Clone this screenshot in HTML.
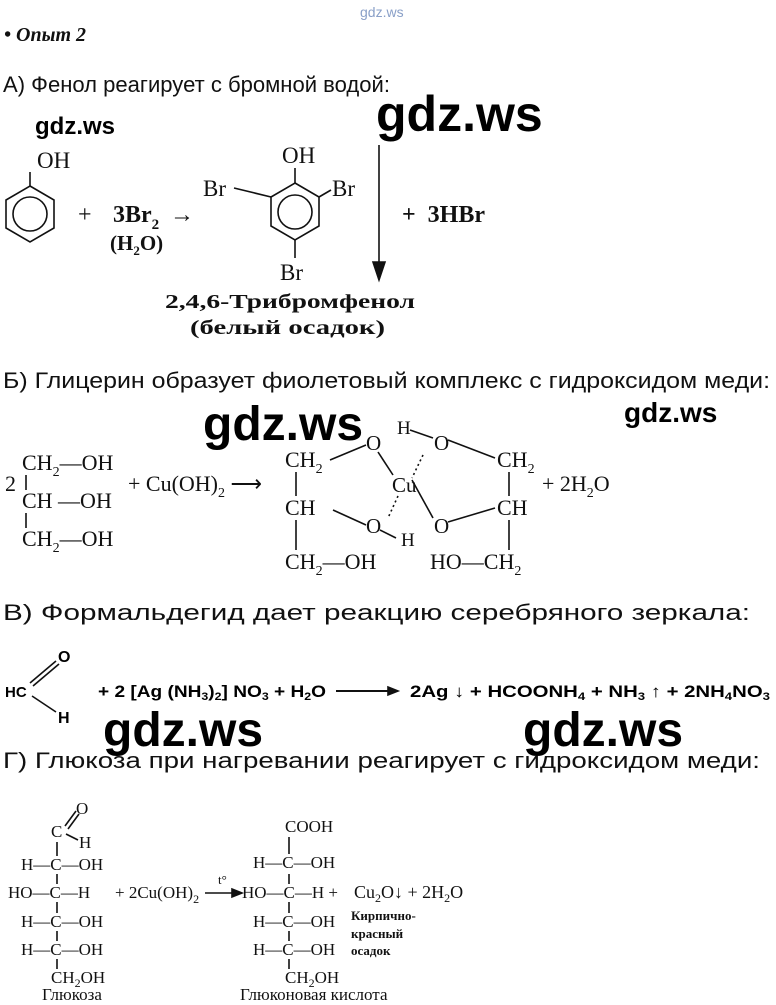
<!DOCTYPE html>
<html><head><meta charset="utf-8"><style>
html,body{margin:0;padding:0;background:#fff;}
svg{display:block;}
.s{font-family:"Liberation Serif",serif;fill:#111;}
.h{font-family:"Liberation Sans",sans-serif;fill:#111;}
.w{font-family:"Liberation Sans",sans-serif;font-weight:bold;fill:#000;}
line,polygon,circle,path{stroke:#111;fill:none;stroke-width:1.6;}
</style></head><body>
<svg width="776" height="1005" viewBox="0 0 776 1005" xmlns="http://www.w3.org/2000/svg">
<text x="360" y="17" font-family="Liberation Sans,sans-serif" font-size="14" fill="#8aa0c8">gdz.ws</text>
<text x="4" y="41" class="s" font-size="20" font-weight="bold" font-style="italic">• Опыт 2</text>
<text x="3" y="92" class="h" font-size="22" textLength="387" lengthAdjust="spacingAndGlyphs">А) Фенол реагирует с бромной водой:</text>
<text x="376" y="131" class="w" font-size="50">gdz.ws</text>
<text x="35" y="134" class="w" font-size="24">gdz.ws</text>
<!-- phenol -->
<text x="37" y="168" class="s" font-size="23">OH</text>
<line x1="30" y1="172" x2="30" y2="186"/>
<polygon points="30,186 54,200 54,228 30,242 6,228 6,200"/>
<circle cx="30" cy="214" r="17"/>
<text x="78" y="222" class="s" font-size="24">+</text>
<text x="113" y="222" class="s" font-size="24" font-weight="bold">3Br<tspan font-size="15" dy="7">2</tspan></text>
<text x="110" y="250" class="s" font-size="21" font-weight="bold">(H<tspan font-size="13" dy="5">2</tspan><tspan dy="-5">O)</tspan></text>
<text x="170" y="222" class="s" font-size="24">→</text>
<!-- tribromophenol -->
<text x="282" y="163" class="s" font-size="23">OH</text>
<line x1="295" y1="168" x2="295" y2="183"/>
<polygon points="295,183 319,197 319,226 295,240 271,226 271,197"/>
<circle cx="295" cy="212" r="17"/>
<text x="203" y="196" class="s" font-size="23">Br</text>
<line x1="234" y1="188" x2="271" y2="197"/>
<text x="332" y="196" class="s" font-size="23">Br</text>
<line x1="319" y1="197" x2="331" y2="190"/>
<line x1="295" y1="240" x2="295" y2="258"/>
<text x="280" y="280" class="s" font-size="23">Br</text>
<line x1="379" y1="145" x2="379" y2="265"/>
<polygon points="373,262 385,262 379,280" style="fill:#111"/>
<text x="402" y="222" class="s" font-size="24" font-weight="bold">+ &#160;3HBr</text>
<text x="165" y="308" class="s" font-size="20" font-weight="bold" textLength="250" lengthAdjust="spacingAndGlyphs">2,4,6-Трибромфенол</text>
<text x="190" y="334" class="s" font-size="20" font-weight="bold" textLength="195" lengthAdjust="spacingAndGlyphs">(белый осадок)</text>
<!-- B -->
<text x="3" y="388" class="h" font-size="22" textLength="767" lengthAdjust="spacingAndGlyphs">Б) Глицерин образует фиолетовый комплекс с гидроксидом меди:</text>
<text x="203" y="440" class="w" font-size="48">gdz.ws</text>
<text x="624" y="422" class="w" font-size="28">gdz.ws</text>
<text x="22" y="470" class="s" font-size="22">CH<tspan font-size="14" dy="6">2</tspan><tspan dy="-6">—OH</tspan></text>
<text x="5" y="491" class="s" font-size="22">2</text>
<text x="22" y="508" class="s" font-size="22">CH —OH</text>
<text x="22" y="546" class="s" font-size="22">CH<tspan font-size="14" dy="6">2</tspan><tspan dy="-6">—OH</tspan></text>
<line x1="26" y1="475" x2="26" y2="490"/><line x1="26" y1="513" x2="26" y2="528"/>
<text x="128" y="491" class="s" font-size="22">+ Cu(OH)<tspan font-size="14" dy="6">2</tspan><tspan dy="-6"> ⟶</tspan></text>
<text x="285" y="467" class="s" font-size="22">CH<tspan font-size="14" dy="6">2</tspan></text>
<text x="285" y="515" class="s" font-size="22">CH</text>
<text x="285" y="569" class="s" font-size="22">CH<tspan font-size="14" dy="6">2</tspan><tspan dy="-6">—OH</tspan></text>
<line x1="296" y1="472" x2="296" y2="496"/><line x1="296" y1="520" x2="296" y2="550"/>
<text x="366" y="450" class="s" font-size="21">O</text>
<text x="397" y="434" class="s" font-size="19">H</text>
<text x="434" y="450" class="s" font-size="21">O</text>
<text x="392" y="492" class="s" font-size="21">Cu</text>
<text x="366" y="533" class="s" font-size="21">O</text>
<text x="401" y="546" class="s" font-size="19">H</text>
<text x="434" y="533" class="s" font-size="21">O</text>
<text x="497" y="467" class="s" font-size="22">CH<tspan font-size="14" dy="6">2</tspan></text>
<text x="497" y="515" class="s" font-size="22">CH</text>
<text x="430" y="569" class="s" font-size="22">HO—CH<tspan font-size="14" dy="6">2</tspan></text>
<line x1="509" y1="472" x2="509" y2="496"/><line x1="509" y1="520" x2="509" y2="550"/>
<line x1="330" y1="460" x2="366" y2="445"/>
<line x1="378" y1="452" x2="393" y2="475"/>
<line x1="410" y1="430" x2="433" y2="438"/>
<line x1="448" y1="440" x2="495" y2="458"/>
<line x1="423" y1="455" x2="412" y2="478" stroke-dasharray="2,3"/>
<line x1="412" y1="480" x2="433" y2="518"/>
<line x1="333" y1="510" x2="366" y2="525"/>
<line x1="380" y1="530" x2="396" y2="538"/>
<line x1="398" y1="496" x2="388" y2="518" stroke-dasharray="2,3"/>
<line x1="448" y1="522" x2="495" y2="508"/>
<text x="542" y="491" class="s" font-size="22">+ 2H<tspan font-size="14" dy="6">2</tspan><tspan dy="-6">O</tspan></text>
<!-- V -->
<text x="3" y="620" class="h" font-size="22" textLength="747" lengthAdjust="spacingAndGlyphs">В) Формальдегид дает реакцию серебряного зеркала:</text>
<text x="5" y="697" class="w" font-size="15" font-weight="normal">HC</text>
<text x="58" y="662" class="w" font-size="16" font-weight="normal">O</text>
<text x="58" y="723" class="w" font-size="16" font-weight="normal">H</text>
<line x1="30" y1="683" x2="56" y2="661"/><line x1="33" y1="686" x2="59" y2="664"/>
<line x1="32" y1="696" x2="56" y2="712"/>
<text x="98" y="697" class="w" font-size="17" textLength="228" lengthAdjust="spacingAndGlyphs">+ 2 [Ag (NH<tspan font-size="11" dy="3">3</tspan><tspan dy="-3">)</tspan><tspan font-size="11" dy="3">2</tspan><tspan dy="-3">] NO</tspan><tspan font-size="11" dy="3">3</tspan><tspan dy="-3"> + H</tspan><tspan font-size="11" dy="3">2</tspan><tspan dy="-3">O</tspan></text>
<line x1="336" y1="691" x2="390" y2="691" style="stroke-width:2"/>
<polygon points="388,687 398,691 388,695" style="fill:#111"/>
<text x="410" y="697" class="w" font-size="17" textLength="360" lengthAdjust="spacingAndGlyphs">2Ag ↓ + HCOONH<tspan font-size="11" dy="3">4</tspan><tspan dy="-3"> + NH</tspan><tspan font-size="11" dy="3">3</tspan><tspan dy="-3"> ↑ + 2NH</tspan><tspan font-size="11" dy="3">4</tspan><tspan dy="-3">NO</tspan><tspan font-size="11" dy="3">3</tspan></text>
<text x="103" y="746" class="w" font-size="48">gdz.ws</text>
<text x="523" y="746" class="w" font-size="48">gdz.ws</text>
<!-- G -->
<text x="3" y="768" class="h" font-size="22" textLength="757" lengthAdjust="spacingAndGlyphs">Г) Глюкоза при нагревании реагирует с гидроксидом меди:</text>
<g class="s" font-size="17">
<text x="76" y="814">O</text>
<text x="51" y="837">C</text>
<text x="79" y="848">H</text>
<text x="21" y="870">H—C—OH</text>
<text x="8" y="898">HO—C—H</text>
<text x="21" y="927">H—C—OH</text>
<text x="21" y="955">H—C—OH</text>
<text x="51" y="983">CH<tspan font-size="12" dy="4">2</tspan><tspan dy="-4">OH</tspan></text>
<text x="42" y="1000">Глюкоза</text>
<text x="115" y="898">+ 2Cu(OH)<tspan font-size="12" dy="5">2</tspan></text>
<text x="218" y="884" font-size="13">t°</text>
<text x="285" y="832">COOH</text>
<text x="253" y="868">H—C—OH</text>
<text x="242" y="898">HO—C—H +</text>
<text x="253" y="927">H—C—OH</text>
<text x="253" y="955">H—C—OH</text>
<text x="285" y="983">CH<tspan font-size="12" dy="4">2</tspan><tspan dy="-4">OH</tspan></text>
<text x="240" y="1000">Глюконовая кислота</text>
<text x="354" y="898" font-size="18">Cu<tspan font-size="12" dy="4">2</tspan><tspan dy="-4">O↓ + 2H</tspan><tspan font-size="12" dy="4">2</tspan><tspan dy="-4">O</tspan></text>
<text x="351" y="920" font-size="13" font-weight="bold">Кирпично-</text>
<text x="351" y="938" font-size="13" font-weight="bold">красный</text>
<text x="351" y="955" font-size="13" font-weight="bold">осадок</text>
</g>
<g style="stroke-width:1.2">
<line x1="65" y1="826" x2="76" y2="811"/><line x1="68" y1="829" x2="79" y2="814"/>
<line x1="66" y1="834" x2="78" y2="840"/>
<line x1="57" y1="842" x2="57" y2="856"/><line x1="57" y1="874" x2="57" y2="884"/>
<line x1="57" y1="902" x2="57" y2="913"/><line x1="57" y1="931" x2="57" y2="941"/><line x1="57" y1="959" x2="57" y2="969"/>
<line x1="289" y1="837" x2="289" y2="854"/><line x1="289" y1="874" x2="289" y2="884"/>
<line x1="289" y1="902" x2="289" y2="913"/><line x1="289" y1="931" x2="289" y2="941"/><line x1="289" y1="959" x2="289" y2="969"/>
<line x1="205" y1="893" x2="234" y2="893"/>
</g>
<polygon points="232,889 242,893 232,897" style="fill:#111"/>
</svg>
</body></html>
